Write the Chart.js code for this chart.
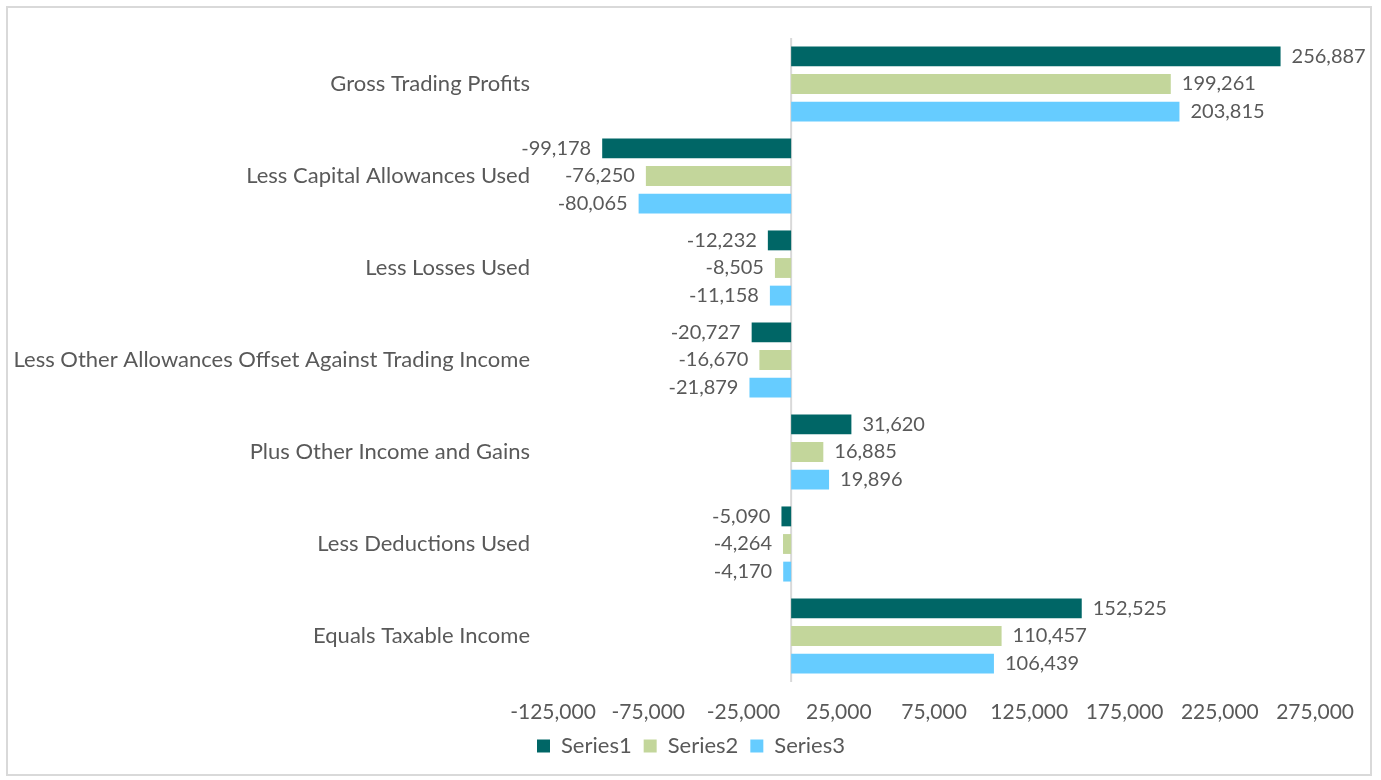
<!DOCTYPE html>
<html>
<head>
<meta charset="utf-8">
<script src="https://cdn.jsdelivr.net/npm/chart.js@4.4.1/dist/chart.umd.min.js"></script>
<style>
  html, body { margin: 0; padding: 0; background: #ffffff; }
  #frame { position: absolute; left: 6px; top: 6px; width: 1366px; height: 770px; border: 2px solid #d9d9d9; box-sizing: border-box; background: #fff; }
  #wrap { position: absolute; left: 2px; top: 2px; width: 1362px; height: 766px; }
</style>
</head>
<body>
<div id="frame"><div id="wrap"><canvas id="c"></canvas></div></div>
<script>
const categories = [
  "Gross Trading Profits",
  "Less Capital Allowances Used",
  "Less Losses Used",
  "Less Other Allowances Offset Against Trading Income",
  "Plus Other Income and Gains",
  "Less Deductions Used",
  "Equals Taxable Income"
];
const series1 = [256887, -99178, -12232, -20727, 31620, -5090, 152525];
const series2 = [199261, -76250, -8505, -16670, 16885, -4264, 110457];
const series3 = [203815, -80065, -11158, -21879, 19896, -4170, 106439];
const seriesNames = ["Series1", "Series2", "Series3"];
const seriesColors = ["#006666", "#C3D69B", "#66CCFF"];
const xMin = -125000, xMax = 275000, xStep = 50000;

const FONT = "Lato, 'Liberation Sans', sans-serif";
const TXT = "#595959";
const fmt = v => v.toLocaleString('en-US');

const dataLabels = {
  id: 'dataLabels',
  afterDatasetsDraw(chart) {
    const ctx = chart.ctx;
    ctx.save();
    ctx.font = "20px " + FONT;
    ctx.fillStyle = TXT;
    ctx.textBaseline = 'middle';
    chart.data.datasets.forEach((ds, i) => {
      const meta = chart.getDatasetMeta(i);
      meta.data.forEach((bar, j) => {
        const v = ds.data[j];
        if (v >= 0) { ctx.textAlign = 'left'; ctx.fillText(fmt(v), bar.x + 11, bar.y); }
        else { ctx.textAlign = 'right'; ctx.fillText(fmt(v), bar.x - 11, bar.y); }
      });
    });
    ctx.restore();
  }
};

const zeroLine = {
  id: 'zeroLine',
  beforeDatasetsDraw(chart) {
    const x = chart.scales.x.getPixelForValue(0);
    const a = chart.chartArea;
    const ctx = chart.ctx;
    ctx.save();
    ctx.strokeStyle = "#d9d9d9";
    ctx.lineWidth = 2;
    ctx.beginPath();
    ctx.moveTo(x, a.top);
    ctx.lineTo(x, a.bottom);
    ctx.stroke();
    ctx.restore();
  }
};

const noPad = s => { s.paddingTop = 0; s.paddingBottom = 0; };

new Chart(document.getElementById('c'), {
  type: 'bar',
  data: {
    labels: categories,
    datasets: [series1, series2, series3].map((d, i) => ({
      label: seriesNames[i],
      data: d,
      backgroundColor: seriesColors[i],
      borderWidth: 0,
      categoryPercentage: 0.9,
      barPercentage: 0.72
    }))
  },
  options: {
    indexAxis: 'y',
    responsive: true,
    maintainAspectRatio: false,
    animation: false,
    layout: { padding: { top: 28, right: 0, bottom: 9, left: 0 } },
    plugins: {
      legend: {
        position: 'bottom',
        labels: {
          font: { family: FONT, size: 22 },
          color: TXT,
          boxWidth: 13,
          boxHeight: 13,
          padding: 12
        }
      },
      tooltip: { enabled: false }
    },
    scales: {
      x: {
        min: xMin, max: xMax,
        grid: { display: false, drawTicks: false },
        border: { display: false },
        afterFit(scale) { scale.height = 41; },
        ticks: {
          stepSize: xStep,
          color: TXT,
          font: { family: FONT, size: 21 },
          padding: 18,
          maxRotation: 0,
          callback: v => fmt(v)
        }
      },
      y: {
        grid: { display: false, drawTicks: false },
        border: { display: false },
        afterFit(scale) { scale.width = 543; noPad(scale); },
        ticks: {
          color: TXT,
          font: { family: FONT, size: 22 },
          padding: 23
        }
      },
      yR: {
        type: 'category',
        position: 'right',
        labels: categories,
        grid: { display: false, drawTicks: false },
        border: { display: false },
        ticks: { display: false },
        afterFit(scale) { scale.width = 54; noPad(scale); }
      }
    }
  },
  plugins: [dataLabels, zeroLine]
});
</script>
</body>
</html>
